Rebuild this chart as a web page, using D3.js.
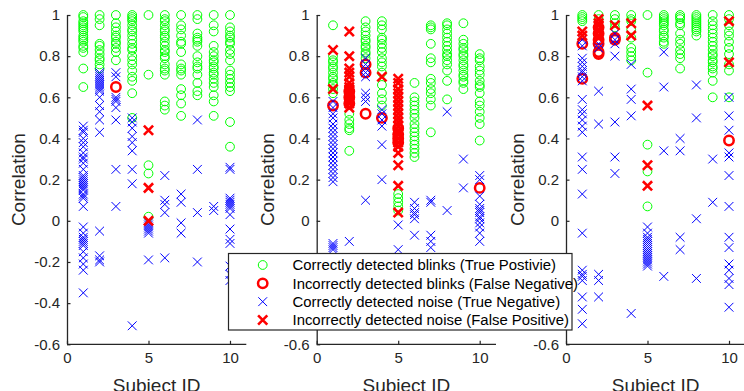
<!DOCTYPE html>
<html><head><meta charset="utf-8">
<script src="https://cdn.jsdelivr.net/npm/d3@7"></script>
<style>html,body{margin:0;padding:0;background:#fff;overflow:hidden}</style>
</head><body>
<svg id="chart" width="744" height="391"></svg>
<script>
// ---------- DATA (values per subject 1..10) ----------
const subjects = [1,2,3,4,5,6,7,8,9,10];
const xTicks = [0,5,10];
const yTicks = [-0.6,-0.4,-0.2,0,0.2,0.4,0.6,0.8,1];
const xLabel = "Subject ID";
const yLabel = "Correlation";
const legendLabels = [
  "Correctly detected blinks (True Postivie)",
  "Incorrectly detected blinks (False Negative)",
  "Correctly detected noise (True Negative)",
  "Incorrectly detected noise (False Positive)"
];

// Panel 1
const p1TP = [
  [1.0,0.99,0.97,0.96,0.95,0.94,0.93,0.92,0.90,0.89,0.88,0.87,0.85,0.84,0.82,0.74,0.65],
  [1.0,0.98,0.95,0.86,0.85,0.83,0.81,0.79,0.78,0.76,0.74],
  [1.0,0.96,0.94,0.92,0.90,0.89,0.87,0.86,0.84,0.82,0.78],
  [1.0,0.99,0.98,0.97,0.95,0.93,0.92,0.90,0.88,0.86,0.84,0.83,0.80,0.78,0.76,0.73,0.70,0.68,0.62,0.50],
  [1.0,0.71,0.27,0.23,0.02],
  [1.0,0.98,0.97,0.95,0.93,0.92,0.90,0.89,0.87,0.85,0.83,0.82,0.80,0.79,0.76,0.74,0.73,0.71,0.58,0.56,0.54],
  [1.0,0.95,0.93,0.90,0.87,0.86,0.82,0.76,0.74,0.73,0.71,0.64,0.61,0.57,0.51],
  [1.0,0.98,0.91,0.89,0.88,0.87,0.85,0.80,0.77,0.75,0.74,0.71,0.67,0.63,0.61],
  [1.0,0.95,0.92,0.85,0.82,0.80,0.78,0.77,0.75,0.74,0.72,0.71,0.69,0.67,0.65,0.61,0.58,0.51],
  [1.0,0.94,0.92,0.90,0.89,0.87,0.86,0.83,0.81,0.78,0.73,0.71,0.69,0.67,0.65,0.63,0.48,0.36]
];
const p1FN = [[],[],[0.65],[],[],[],[],[],[],[]];
const p1TN = [
  [0.46,0.44,0.43,0.40,0.38,0.36,0.33,0.31,0.30,0.28,0.25,0.22,0.21,0.20,0.19,0.18,0.17,0.16,0.15,0.13,0.12,0.11,0.07,-0.03,-0.06,-0.08,-0.09,-0.10,-0.11,-0.12,-0.15,-0.18,-0.21,-0.24,-0.35],
  [0.72,0.71,0.70,0.69,0.68,0.67,0.66,0.65,0.64,0.63,0.60,0.56,0.53,0.49,0.43,-0.05,-0.17,-0.19,-0.20],
  [0.72,0.70,0.60,0.59,0.58,0.55,0.49,0.25,0.07],
  [0.50,0.48,0.45,0.41,0.38,0.34,0.25,0.18,-0.51],
  [-0.01,-0.02,-0.03,-0.04,-0.05,-0.06,-0.19],
  [0.22,0.10,0.08,0.04,-0.18],
  [0.13,0.09,-0.01,-0.06],
  [0.49,0.25,0.04,-0.20],
  [0.07,0.05],
  [0.26,0.25,0.11,0.10,0.09,0.08,0.07,0.06,0.03,-0.04,-0.09,-0.11,-0.22,-0.26,-0.29]
];
const p1FP = [[],[],[],[],[0.44,0.16,0.0],[],[],[],[],[]];

// Panel 2
const p2TP = [
  [0.95,0.80,0.78,0.77,0.75,0.74,0.72,0.70,0.69,0.67,0.66,0.64,0.62],
  [0.52,0.49,0.47,0.45,0.44,0.34],
  [0.97,0.94,0.92,0.90,0.88,0.87,0.85,0.84,0.82,0.81,0.79],
  [0.97,0.95,0.93,0.89,0.88,0.86,0.84,0.82,0.79,0.77,0.75,0.72,0.66,0.62,0.59,0.56],
  [0.13,0.11,0.09,0.07,0.05],
  [0.67,0.60,0.58,0.56,0.54,0.52,0.50,0.47,0.45,0.43,0.41,0.39,0.37,0.35,0.33,0.31],
  [0.95,0.94,0.93,0.86,0.79,0.77,0.69,0.67,0.64,0.62,0.59,0.56,0.43],
  [0.96,0.95,0.93,0.91,0.89,0.87,0.85,0.83,0.81,0.80,0.78,0.76,0.73,0.68,0.59],
  [0.96,0.88,0.86,0.84,0.83,0.81,0.80,0.78,0.76,0.75,0.73,0.71,0.70,0.68,0.67,0.64],
  [0.81,0.79,0.78,0.75,0.73,0.71,0.68,0.66,0.65,0.62,0.58,0.56,0.53,0.50,0.47,0.39]
];
const p2FN = [[0.56],[0.63,0.60,0.57],[0.76,0.72,0.52],[0.50],[0.45,0.42,0.40,0.38],[],[],[],[],[0.16]];
const p2TN = [
  [0.58,0.55,0.52,0.50,0.47,0.45,0.43,0.41,0.39,0.37,0.35,0.33,0.31,0.29,0.27,0.25,0.23,0.21,0.19,-0.11,-0.12,-0.13,-0.14],
  [-0.10],
  [0.79,0.76,0.74,0.72,0.70,0.62,0.60,0.58,0.10],
  [0.54,0.52,0.49,0.46,0.37,0.20],
  [-0.02,-0.14],
  [0.09,0.06,0.04,0.03,0.01,-0.07],
  [0.10,0.09,-0.07,-0.10,-0.13],
  [0.53,0.05],
  [0.30,0.16],
  [0.22,0.20,0.12,0.08,0.06,0.05,0.04,0.02,0.01,-0.01,-0.03,-0.06,-0.10]
];
const p2FP = [
  [0.83,0.64],
  [0.92,0.80,0.74,0.72,0.70,0.67,0.65,0.64,0.63,0.62,0.61,0.60,0.59,0.58,0.57,0.55],
  [],
  [0.70],
  [0.69,0.67,0.64,0.62,0.60,0.58,0.56,0.54,0.52,0.50,0.48,0.46,0.44,0.42,0.40,0.38,0.36,0.33,0.27,0.17,0.04],
  [],[],[],[],[]
];

// Panel 3
const p3TP = [
  [1.0,0.99,0.98,0.97],
  [1.0,0.98],
  [1.0,0.98,0.96,0.94],
  [1.0,0.98,0.97,0.93,0.89,0.84,0.82,0.80,0.78],
  [1.0,0.72,0.37,0.24,0.07],
  [1.0,0.99,0.98,0.97,0.96,0.95,0.93,0.92,0.90,0.89,0.87,0.86],
  [1.0,0.99,0.98,0.96,0.95,0.91,0.88,0.86,0.83,0.81,0.79,0.74],
  [1.0,0.99,0.98,0.97,0.96,0.95,0.94,0.93,0.92,0.90],
  [1.0,0.97,0.95,0.93,0.91,0.89,0.87,0.85,0.83,0.81,0.80,0.78,0.77,0.75,0.74,0.72,0.68,0.60],
  [1.0,0.98,0.95,0.92,0.90,0.87,0.84,0.81,0.76,0.73,0.60]
];
const p3FN = [[0.86,0.69],[0.94,0.91,0.88,0.86,0.82,0.81],[0.89,0.88],[],[],[],[],[],[],[0.39]];
const p3TN = [
  [0.88,0.85,0.79,0.77,0.75,0.73,0.72,0.70,0.68,0.59,0.54,0.52,0.49,0.46,0.43,0.31,0.25,0.13,-0.06,-0.24,-0.26,-0.27,-0.29,-0.37,-0.43,-0.50],
  [0.86,0.84,0.63,0.47,-0.26,-0.29,-0.37],
  [0.91,0.88,0.86,0.80,0.48,0.31,0.23],
  [0.76,0.64,0.59,0.51,-0.45],
  [-0.03,-0.06,-0.08,-0.09,-0.10,-0.11,-0.12,-0.13,-0.14,-0.15,-0.16,-0.17,-0.18,-0.19,-0.20,-0.21,-0.22],
  [0.82,0.65,0.34,-0.27],
  [0.40,0.34,-0.08,-0.14],
  [0.66,0.50,0.01,-0.28],
  [0.30,0.09],
  [0.60,0.51,0.44,0.33,0.31,0.22,0.07,-0.08,-0.13,-0.21,-0.24,-0.28,-0.31,-0.42]
];
const p3FP = [[0.92,0.90],[0.98,0.96,0.95,0.93,0.92,0.90,0.89],[0.95],[0.96,0.90],[0.56,0.27,0.17],[],[],[],[],[0.97,0.77]];

// ---------- DRAWING ----------
const panels = [
  {TP:p1TP, FN:p1FN, TN:p1TN, FP:p1FP, left:67},
  {TP:p2TP, FN:p2FN, TN:p2TN, FP:p2FP, left:316.7},
  {TP:p3TP, FN:p3FN, TN:p3TN, FP:p3FP, left:566}
];
const plotW = 179.3, plotTop = 15, plotBottom = 344.3;
const axisColor = "#262626";
const font = "'Liberation Sans', Arial, Helvetica, sans-serif";
const svg = d3.select("#chart");

const styles = {
  TP: {type:"o", color:"#00ff00", r:4.4, sw:1},
  FN: {type:"o", color:"#ff0000", r:4.7, sw:2.5},
  TN: {type:"x", color:"#0000ff", r:4.4, sw:1},
  FP: {type:"x", color:"#ff0000", r:4.6, sw:2.6}
};

function drawMarker(g, cx, cy, st){
  if (st.type === "o") {
    g.append("circle").attr("cx",cx).attr("cy",cy).attr("r",st.r)
      .attr("fill","none").attr("stroke",st.color).attr("stroke-width",st.sw);
  } else {
    const r = st.r;
    g.append("path").attr("d",`M${cx-r},${cy-r}L${cx+r},${cy+r}M${cx-r},${cy+r}L${cx+r},${cy-r}`)
      .attr("fill","none").attr("stroke",st.color).attr("stroke-width",st.sw);
  }
}

const y = d3.scaleLinear().domain([-0.6,1]).range([plotBottom, plotTop]);

panels.forEach(p => {
  const x = d3.scaleLinear().domain([0,11]).range([p.left, p.left+plotW]);
  const g = svg.append("g");

  const yAxis = d3.axisLeft(y).tickValues(yTicks).tickSize(-3.5).tickPadding(7)
    .tickFormat(d => String(+d.toFixed(1)));
  const ya = g.append("g").attr("transform",`translate(${p.left},0)`).call(yAxis);
  const xAxis = d3.axisBottom(x).tickValues(xTicks).tickSize(-3.5).tickPadding(8);
  const xa = g.append("g").attr("transform",`translate(0,${plotBottom})`).call(xAxis);
  [ya, xa].forEach(a => {
    a.select(".domain").attr("stroke",axisColor).attr("stroke-width",1.3);
    a.selectAll(".tick line").attr("stroke",axisColor).attr("stroke-width",1.2);
    a.selectAll(".tick text").attr("fill",axisColor).style("font-family",font).style("font-size","15px");
  });
  ya.select(".domain").attr("d",`M0.5,${plotBottom}V${plotTop}`);
  xa.select(".domain").attr("d",`M${p.left},0H${p.left+plotW}`);

  g.append("text").attr("x",x(5.5)).attr("y",392).attr("text-anchor","middle")
    .attr("fill",axisColor).style("font-family",font).style("font-size","19px").text(xLabel);
  g.append("text").attr("transform",`translate(${p.left-49},${(plotTop+plotBottom)/2}) rotate(-90)`)
    .attr("text-anchor","middle").attr("dy","0.35em")
    .attr("fill",axisColor).style("font-family",font).style("font-size","19px").text(yLabel);

  const mg = g.append("g");
  ["TP","FN","TN","FP"].forEach(k => {
    p[k].forEach((vals, i) => {
      vals.forEach(v => drawMarker(mg, x(subjects[i]), y(v), styles[k]));
    });
  });
});

// legend
const lg = svg.append("g");
lg.append("rect").attr("x",228.5).attr("y",253.5).attr("width",343.5).attr("height",76.5)
  .attr("fill","#fff").attr("stroke",axisColor).attr("stroke-width",1.2);
const legendY = d3.scalePoint().domain(d3.range(4)).range([265, 320]);
["TP","FN","TN","FP"].forEach((k,i) => {
  drawMarker(lg, 262.7, legendY(i), styles[k]);
  lg.append("text").attr("x",292.5).attr("y",legendY(i)).attr("dy","0.35em")
    .attr("fill","#000").style("font-family",font).style("font-size","14.9px").text(legendLabels[i]);
});
</script>
</body></html>
